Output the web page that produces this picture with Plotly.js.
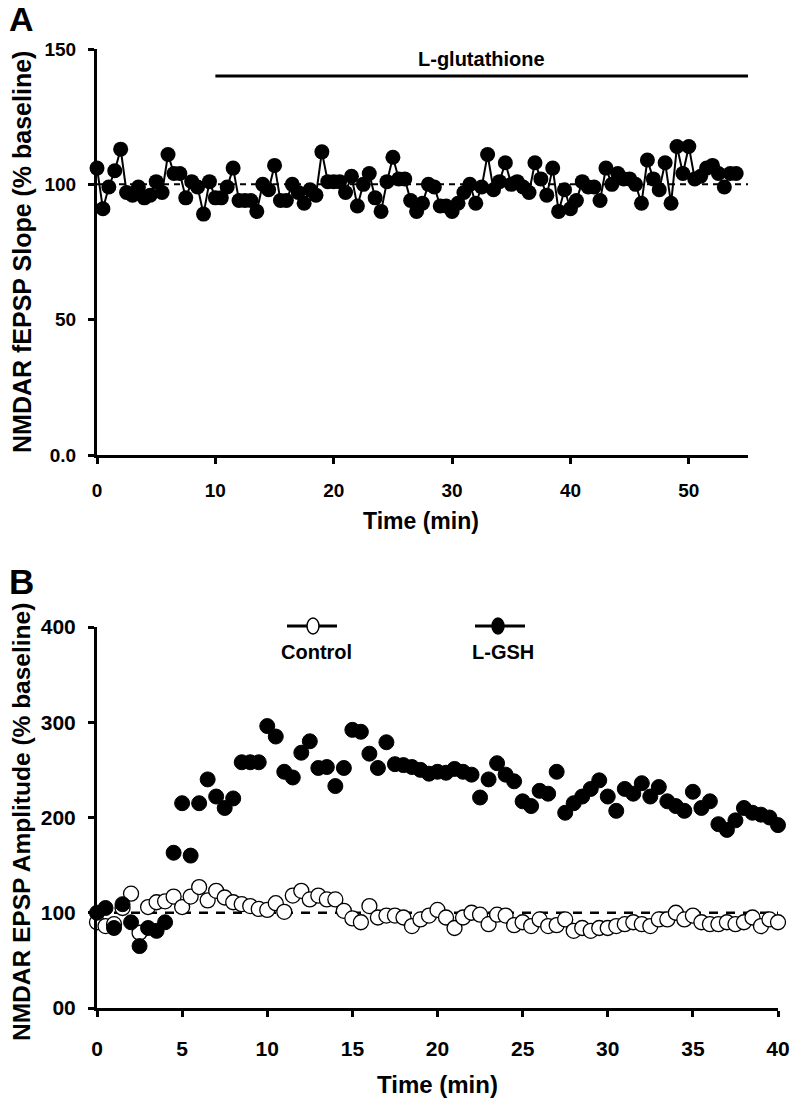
<!DOCTYPE html>
<html><head><meta charset="utf-8">
<script src="https://cdn.plot.ly/plotly-3.0.1.min.js"></script>
<style>html,body{margin:0;padding:0;background:#fff}#chart{width:792px;height:1104px}</style>
</head><body><div id="chart"></div>
<script>
// ---- Panel A data ----
const timeA = [0,0.5,1,1.5,2,2.5,3,3.5,4,4.5,5,5.5,6,6.5,7,7.5,8,8.5,9,9.5,10,10.5,11,11.5,12,12.5,13,13.5,14,14.5,15,15.5,16,16.5,17,17.5,18,18.5,
19,19.5,20,20.5,21,21.5,22,22.5,23,23.5,24,24.5,25,25.5,26,26.5,27,27.5,28,28.5,29,29.5,30,30.5,31,31.5,32,32.5,33,33.5,34,34.5,35,35.5,36,36.5,37,
37.5,38,38.5,39,39.5,40,40.5,41,41.5,42,42.5,43,43.5,44,44.5,45,45.5,46,46.5,47,47.5,48,48.5,49,49.5,50,50.5,51,51.5,52,52.5,53,53.5,54];
const slopeA = [106,91,99,105,113,97,96,99,95,96,101,97,111,104,104,95,101,99,89,101,95,95,99,106,94,94,94,90,100,98,107,94,94,100,97,93,98,96,
112,101,101,101,97,103,92,100,104,95,90,101,110,102,102,94,90,93,100,99,92,92,90,93,97,100,93,99,111,98,101,108,100,101,99,97,108,
102,96,106,90,98,91,94,101,99,99,94,106,100,104,102,102,100,93,109,102,98,108,93,114,104,114,102,103,106,107,104,99,104,104];
const xTicksA = [0,10,20,30,40,50];
const yTicksA = [0,50,100,150];
const yTickTextA = ['0.0','50','100','150'];
const baselineA = 100;
const drugStartA = 10, drugEndA = 55, drugLevelA = 140;

// ---- Panel B data ----
const timeB = [0,0.5,1,1.5,2,2.5,3,3.5,4,4.5,5,5.5,6,6.5,7,7.5,8,8.5,9,9.5,10,10.5,11,11.5,12,12.5,13,13.5,14,14.5,15,15.5,16,16.5,17,17.5,18,18.5,19,19.5,
20,20.5,21,21.5,22,22.5,23,23.5,24,24.5,25,25.5,26,26.5,27,27.5,28,28.5,29,29.5,30,30.5,31,31.5,32,32.5,33,33.5,34,34.5,35,35.5,36,36.5,37,37.5,38,38.5,39,39.5,40];
const controlB = [90,86,88,105,120,79,106,111,112,117,106,117,127,113,123,116,111,109,107,104,103,110,101,118,123,114,118,114,114,102,94,90,107,95,97,97,95,86,93,97,
103,95,84,95,100,98,88,98,97,87,90,86,93,86,87,93,81,84,81,84,84,86,88,90,88,86,93,93,100,93,97,90,88,88,90,88,90,95,86,93,90];
const gshB = [100,105,84,109,90,65,84,81,90,163,215,160,215,240,222,210,220,258,258,258,296,285,248,242,268,280,252,253,233,252,292,290,267,252,279,256,255,253,250,246,
248,247,251,248,245,221,240,257,245,238,217,212,228,225,248,205,215,222,230,239,222,207,230,225,236,222,232,217,212,207,227,210,217,193,187,197,210,205,203,200,192];
const xTicksB = [0,5,10,15,20,25,30,35,40];
const yTicksB = [0,100,200,300,400];
const yTickTextB = ['00','100','200','300','400'];
const baselineB = 100;

const W = 792, H = 1104;
const px = v => v / W, py = v => 1 - v / H;
const FONT = 'Liberation Sans, Arial, Helvetica, sans-serif';

const traces = [
  {x: timeA, y: slopeA, xaxis:'x', yaxis:'y', type:'scatter', mode:'lines+markers', cliponaxis:false,
   line:{color:'#000', width:2}, marker:{size:15, color:'#000', line:{width:0}}},
  {x: timeB, y: controlB, xaxis:'x2', yaxis:'y2', type:'scatter', mode:'markers', cliponaxis:false,
   marker:{size:15, color:'#fff', line:{color:'#000', width:1.3}}},
  {x: timeB, y: gshB, xaxis:'x2', yaxis:'y2', type:'scatter', mode:'markers', cliponaxis:false,
   marker:{size:15, color:'#000', line:{color:'#000', width:1}}}
];

const axisCommon = {showline:true, linewidth:3, linecolor:'#000', ticks:'outside', ticklen:6, tickwidth:3, tickcolor:'#000',
  showgrid:false, zeroline:false, fixedrange:true};

const ann = (text, x, y, size, extra) => Object.assign({text, xref:'paper', yref:'paper', x:px(x), y:py(y),
  xanchor:'center', yanchor:'middle', showarrow:false, font:{size, weight:'bold', family:FONT}}, extra || {});

const layout = {
  width: W, height: H, margin:{l:0, r:0, t:0, b:0}, showlegend:false,
  paper_bgcolor:'#fff', plot_bgcolor:'rgba(0,0,0,0)',
  font:{family: FONT, color:'#000'},
  xaxis: Object.assign({}, axisCommon, {domain:[px(97), px(748)], range:[0,55], anchor:'y', tickmode:'array', tickvals:xTicksA,
    tickfont:{size:19, weight:'bold', family:FONT}, ticklabelstandoff:10}),
  yaxis: Object.assign({}, axisCommon, {domain:[py(455), py(49)], range:[0,150], anchor:'x', tickmode:'array', tickvals:yTicksA, ticktext:yTickTextA,
    tickfont:{size:19, weight:'bold', family:FONT}, ticklabelstandoff:8}),
  xaxis2: Object.assign({}, axisCommon, {domain:[px(97), px(778)], range:[0,40], anchor:'y2', tickmode:'array', tickvals:xTicksB,
    tickfont:{size:21, weight:'bold', family:FONT}, ticklabelstandoff:14}),
  yaxis2: Object.assign({}, axisCommon, {domain:[py(1008), py(627)], range:[0,400], anchor:'x2', tickmode:'array', tickvals:yTicksB, ticktext:yTickTextB,
    tickfont:{size:21, weight:'bold', family:FONT}, ticklabelstandoff:8}),
  shapes: [
    {type:'line', xref:'x', yref:'y', x0:0, x1:55, y0:baselineA, y1:baselineA, layer:'below', line:{color:'#000', width:2, dash:'6px,5px'}},
    {type:'line', xref:'x', yref:'y', x0:drugStartA, x1:drugEndA, y0:drugLevelA, y1:drugLevelA, line:{color:'#000', width:3}},
    {type:'line', xref:'x2', yref:'y2', x0:0, x1:40, y0:baselineB, y1:baselineB, layer:'below', line:{color:'#000', width:2.5, dash:'9px,8px'}},
    // legend symbols
    {type:'line', xref:'paper', yref:'paper', x0:px(287), x1:px(337), y0:py(626), y1:py(626), line:{color:'#000', width:3}},
    {type:'circle', xref:'paper', yref:'paper', x0:px(307), x1:px(319), y0:py(634), y1:py(618), fillcolor:'#fff', line:{color:'#000', width:1.5}},
    {type:'line', xref:'paper', yref:'paper', x0:px(475), x1:px(525), y0:py(626), y1:py(626), line:{color:'#000', width:3}},
    {type:'circle', xref:'paper', yref:'paper', x0:px(492), x1:px(504), y0:py(634), y1:py(618), fillcolor:'#000', line:{color:'#000', width:1.5}}
  ],
  annotations: [
    ann('A', 21, 19, 34),
    ann('B', 21, 581, 35),
    ann('NMDAR fEPSP Slope (% baseline)', 22, 252, 25, {textangle:-90}),
    ann('Time (min)', 421, 521, 23),
    {text:'L-glutathione', xref:'x', yref:'y', x:(drugStartA+drugEndA)/2, y:drugLevelA, xanchor:'center', yanchor:'bottom', yshift:4, showarrow:false, font:{size:20, weight:'bold', family:FONT}},
    ann('NMDAR EPSP Amplitude (% baseline)', 21, 822, 24.5, {textangle:-90}),
    ann('Time (min)', 437, 1084, 24),
    ann('Control', 316, 652, 20),
    ann('L-GSH', 503, 652, 20)
  ]
};

Plotly.newPlot('chart', traces, layout, {staticPlot:true, displayModeBar:false});
</script>
</body></html>
